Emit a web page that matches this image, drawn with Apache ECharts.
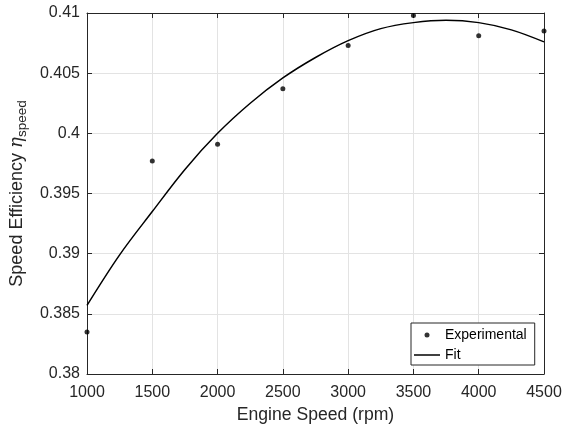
<!DOCTYPE html>
<html>
<head>
<meta charset="utf-8">
<script src="https://cdn.jsdelivr.net/npm/echarts@6/dist/echarts.min.js"></script>
<style>
html,body{margin:0;padding:0;background:#fff;}
#chart{width:565px;height:432px;}
</style>
</head>
<body>
<div id="chart"></div>
<script>
// Experimental points
const expSpeed = [1000, 1500, 2000, 2500, 3000, 3500, 4000, 4500];
const expEff   = [0.3835, 0.3977, 0.3991, 0.4037, 0.4073, 0.4098, 0.4081, 0.4085];
// Fit curve
const fitSpeed = [1000, 1250, 1500, 1750, 2000, 2250, 2500, 2750, 3000, 3250, 3500, 3750, 4000, 4250, 4500];
const fitEff   = [0.3857, 0.3899, 0.3935, 0.3970, 0.4000, 0.4025, 0.4046, 0.4063, 0.4077, 0.4087, 0.4092, 0.4094, 0.4092, 0.4086, 0.4076];
// Axis ticks
const xTicks = [1000, 1500, 2000, 2500, 3000, 3500, 4000, 4500];
const yTicks = ['0.38', '0.385', '0.39', '0.395', '0.4', '0.405', '0.41'];

const axisColor = '#262626';
const gridColor = '#e3e3e3';
const fontFam = '"Liberation Sans", Arial, Helvetica, sans-serif';

const chart = echarts.init(document.getElementById('chart'), null, {renderer: 'canvas'});

const xBase = {
  type: 'value', min: xTicks[0], max: xTicks[xTicks.length - 1], interval: 500,
  axisLine: {show: true, lineStyle: {color: axisColor, width: 1}},
  axisTick: {show: true, inside: true, length: 5, lineStyle: {color: axisColor}},
};
const yBase = {
  type: 'value', min: 0.38, max: 0.41, interval: 0.005,
  axisLine: {show: true, lineStyle: {color: axisColor, width: 1}},
  axisTick: {show: true, inside: true, length: 5, lineStyle: {color: axisColor}},
};

chart.setOption({
  backgroundColor: '#ffffff',
  animation: false,
  textStyle: {fontFamily: fontFam},
  grid: {left: 87, right: 21, top: 13, bottom: 58, containLabel: false},
  xAxis: [
    Object.assign({}, xBase, {
      position: 'bottom',
      name: 'Engine Speed (rpm)', nameLocation: 'middle', nameGap: 32,
      nameTextStyle: {color: axisColor, fontSize: 17.6, fontFamily: fontFam},
      axisLabel: {color: axisColor, fontSize: 16, margin: 11, fontFamily: fontFam,
        formatter: v => String(v)},
      splitLine: {show: true, lineStyle: {color: gridColor, width: 1}}
    }),
    Object.assign({}, xBase, {
      position: 'top', axisLabel: {show: false}, splitLine: {show: false}
    })
  ],
  yAxis: [
    Object.assign({}, yBase, {
      position: 'left',
      name: '{a|Speed Efficiency }{b|η}{c|speed}', nameLocation: 'middle', nameGap: 45,
      nameRotate: 90,
      nameTextStyle: {
        color: axisColor, fontFamily: fontFam,
        rich: {
          a: {fontSize: 18, color: axisColor, fontFamily: fontFam, lineHeight: 24, verticalAlign: 'middle'},
          b: {fontSize: 18, color: axisColor, fontFamily: '"DejaVu Serif", serif', fontStyle: 'italic', lineHeight: 24, verticalAlign: 'middle'},
          c: {fontSize: 13.5, color: axisColor, fontFamily: fontFam, lineHeight: 16, verticalAlign: 'bottom'}
        }
      },
      axisLabel: {color: axisColor, fontSize: 16, margin: 7, fontFamily: fontFam,
        formatter: v => { const i = Math.round((v - 0.38) / 0.005); return yTicks[i] !== undefined ? yTicks[i] : ''; }},
      splitLine: {show: true, lineStyle: {color: gridColor, width: 1}}
    }),
    Object.assign({}, yBase, {
      position: 'right', axisLabel: {show: false}, splitLine: {show: false}
    })
  ],
  legend: {
    left: 411, top: 323, orient: 'vertical',
    backgroundColor: '#ffffff', borderColor: axisColor, borderWidth: 1, borderRadius: 0,
    padding: [5, 8, 3, 3], itemGap: 6, itemWidth: 26, itemHeight: 5,
    textStyle: {color: '#000', fontSize: 14, fontFamily: fontFam},
    data: [
      {name: 'Experimental', icon: 'circle'},
      {name: 'Fit', icon: 'path://M0,0L26,0L26,1.5L0,1.5Z', itemStyle: {color: '#000'}}
    ]
  },
  series: [
    {
      name: 'Experimental', type: 'scatter', xAxisIndex: 0, yAxisIndex: 0,
      symbol: 'circle', symbolSize: 5,
      itemStyle: {color: '#000'},
      data: expSpeed.map((x, i) => [x, expEff[i]]),
      z: 3
    },
    {
      name: 'Fit', type: 'line', xAxisIndex: 0, yAxisIndex: 0,
      showSymbol: false, symbol: 'none', smooth: 0.35,
      lineStyle: {color: '#000', width: 1.5},
      itemStyle: {color: '#000'},
      data: fitSpeed.map((x, i) => [x, fitEff[i]]),
      z: 2
    }
  ]
});
</script>
</body>
</html>
